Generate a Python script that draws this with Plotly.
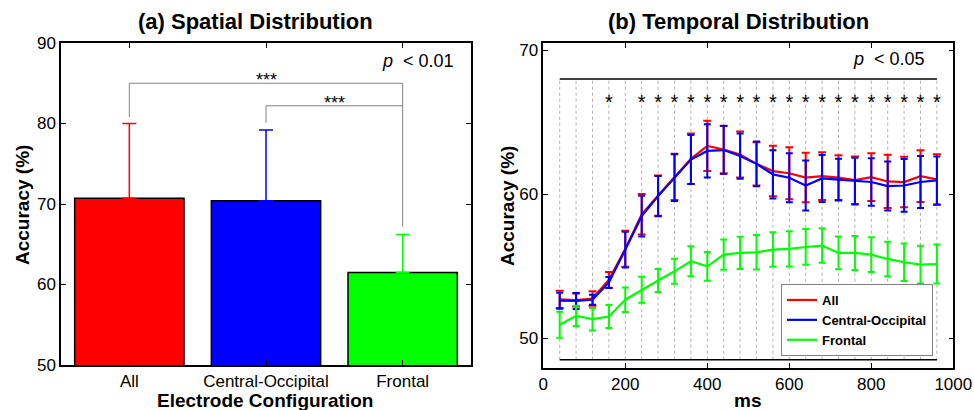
import plotly.graph_objects as go

# ---------------- data ----------------
# (a) spatial distribution
configs = ["All", "Central-Occipital", "Frontal"]
bar_acc = [70.7, 70.4, 61.5]
bar_err = [9.3, 8.8, 4.7]
bar_colors = ["#ff0000", "#0000ff", "#00ff00"]
bracket1_x = ["All", "All", "Frontal", "Frontal"]
bracket1_y = [80.8, 85.0, 85.0, 67.2]
bracket2_x = ["Central-Occipital", "Central-Occipital", "Frontal"]
bracket2_y = [80.1, 82.2, 82.2]

# (b) temporal distribution
ms = [40, 80, 120, 160, 200, 240, 280, 320, 360, 400, 440, 480,
      520, 560, 600, 640, 680, 720, 760, 800, 840, 880, 920, 960]
all_mean = [52.70, 52.65, 52.75, 54.05, 56.20, 58.60, 59.90, 61.20, 62.45, 63.35, 63.10, 62.75,
            62.10, 61.60, 61.45, 61.15, 61.25, 61.15, 60.97, 61.18, 60.88, 60.84, 61.25, 61.02]
all_err = [0.60, 0.45, 0.50, 0.55, 1.25, 1.40, 1.40, 1.60, 1.75, 1.75, 1.65, 1.60,
           1.50, 1.75, 1.80, 1.72, 1.65, 1.55, 1.65, 1.65, 1.85, 1.75, 1.80, 1.75]
co_mean = [52.60, 52.58, 52.67, 53.87, 56.15, 58.47, 59.86, 61.15, 62.40, 63.00, 63.06, 62.64,
           62.10, 61.37, 61.14, 60.60, 61.09, 61.00, 60.90, 60.84, 60.56, 60.60, 60.84, 60.95]
co_err = [0.55, 0.56, 0.35, 0.38, 1.24, 1.42, 1.40, 1.62, 1.70, 1.85, 1.67, 1.57,
          1.55, 1.67, 1.70, 1.74, 1.63, 1.45, 1.62, 1.65, 1.70, 1.83, 1.81, 1.67]
fr_mean = [50.93, 51.55, 51.32, 51.50, 52.67, 53.36, 54.00, 54.64, 55.34, 54.99, 55.80, 55.92,
           55.96, 56.15, 56.20, 56.33, 56.43, 55.92, 55.92, 55.80, 55.50, 55.27, 55.10, 55.15]
fr_err = [0.90, 0.70, 0.78, 0.80, 0.85, 0.90, 0.80, 0.87, 1.04, 1.00, 1.05, 1.12,
          1.20, 1.20, 1.22, 1.24, 1.20, 1.14, 1.18, 1.20, 1.20, 1.30, 1.31, 1.36]
sig_ms = [160, 240, 280, 320, 360, 400, 440, 480, 520, 560, 600, 640, 680,
          720, 760, 800, 840, 880, 920, 960]
sig_level = 66.7
frame_top, frame_bottom = 68.0, 48.5

FONT = "Liberation Sans, Arial, sans-serif"
W, H = 974, 410

fig = go.Figure()

# ---- panel (a) bars ----
for c, v, e, col in zip(configs, bar_acc, bar_err, bar_colors):
    fig.add_trace(go.Bar(
        x=[c], y=[v], width=0.8, marker=dict(color=col, line=dict(color="black", width=1.5)),
        error_y=dict(type="data", symmetric=False, array=[e], arrayminus=[0],
                     color=col, thickness=1.5, width=7),
        showlegend=False, xaxis="x", yaxis="y"))

for bx, by in [(bracket1_x, bracket1_y), (bracket2_x, bracket2_y)]:
    fig.add_trace(go.Scatter(x=bx, y=by, mode="lines", line=dict(color="#808080", width=1),
                             showlegend=False, hoverinfo="skip", xaxis="x", yaxis="y"))

# ---- panel (b) ----
vx, vy = [], []
for t in ms:
    vx += [t, t, None]
    vy += [frame_bottom, frame_top, None]
fig.add_trace(go.Scatter(x=vx, y=vy, mode="lines", line=dict(color="#b0b0b0", width=1, dash="dot"),
                         showlegend=False, hoverinfo="skip", xaxis="x2", yaxis="y2"))
fig.add_trace(go.Scatter(x=[ms[0], ms[-1], None, ms[0], ms[-1]],
                         y=[frame_top, frame_top, None, frame_bottom, frame_bottom],
                         mode="lines", line=dict(color="black", width=1.5),
                         showlegend=False, hoverinfo="skip", xaxis="x2", yaxis="y2"))

for name, m, e, col, cw in [("All", all_mean, all_err, "#ff0000", 4),
                            ("Central-Occipital", co_mean, co_err, "#0000ff", 3.5),
                            ("Frontal", fr_mean, fr_err, "#00ff00", 3.5)]:
    fig.add_trace(go.Scatter(
        x=ms, y=m, mode="lines", name=name, line=dict(color=col, width=2.2),
        error_y=dict(type="data", array=e, color=col, thickness=2, width=cw),
        xaxis="x2", yaxis="y2"))

fig.add_trace(go.Scatter(x=sig_ms, y=[sig_level - 0.45] * len(sig_ms), mode="text",
                         text=["*"] * len(sig_ms), textfont=dict(family=FONT, size=20, color="black"),
                         showlegend=False, hoverinfo="skip", xaxis="x2", yaxis="y2"))

def px_x(p):
    return p / W

def px_y(p):
    return 1 - p / H

axis_common = dict(showline=True, linecolor="black", linewidth=1.5, mirror="allticks",
                   ticks="inside", ticklen=5, tickcolor="black", tickwidth=1,
                   showgrid=False, zeroline=False, automargin=False,
                   tickfont=dict(family=FONT, size=17, color="black"))

fig.update_layout(
    width=W, height=H, margin=dict(l=0, r=0, t=0, b=0, autoexpand=False),
    paper_bgcolor="white", plot_bgcolor="white", barmode="overlay",
    xaxis=dict(domain=[px_x(61), px_x(471)], type="category", range=[-0.5, 2.5],
               categoryorder="array", categoryarray=configs, anchor="y", **axis_common),
    yaxis=dict(domain=[px_y(365), px_y(43)], range=[50, 90], dtick=10, anchor="x", **axis_common),
    xaxis2=dict(domain=[px_x(543.3), px_x(953.3)], range=[0, 1000], dtick=200, anchor="y2", **axis_common),
    yaxis2=dict(domain=[px_y(367.7), px_y(43.3)], range=[47.95, 70.47], dtick=10, anchor="x2", **axis_common),
    legend=dict(x=px_x(781), y=px_y(284), xanchor="left", yanchor="top",
                bgcolor="white", bordercolor="#808080", borderwidth=1,
                font=dict(family=FONT, size=13, color="black", weight="bold"),
                tracegroupgap=0),
    font=dict(family=FONT, color="black"),
)

title_font = dict(family=FONT, size=22, color="black", weight="bold")
axt_font = dict(family=FONT, size=19, color="black", weight="bold")
ann = [
    dict(text="(a) Spatial Distribution", x=px_x(255), y=px_y(21), font=title_font),
    dict(text="(b) Temporal Distribution", x=px_x(738), y=px_y(21), font=title_font),
    dict(text="Electrode Configuration", x=px_x(265), y=px_y(400), font=axt_font),
    dict(text="ms", x=px_x(747), y=px_y(400), font=axt_font),
    dict(text="Accuracy (%)", x=px_x(22), y=px_y(205), font=axt_font, textangle=-90),
    dict(text="Accuracy (%)", x=px_x(507), y=px_y(206), font=axt_font, textangle=-90),
    dict(text="<i>p</i>  < 0.01", x=px_x(456), y=px_y(61), xanchor="right",
         font=dict(family=FONT, size=18, color="black")),
    dict(text="<i>p</i>  < 0.05", x=px_x(927), y=px_y(59), xanchor="right",
         font=dict(family=FONT, size=18, color="black")),
]
for a in ann:
    a.setdefault("xanchor", "center")
    fig.add_annotation(xref="paper", yref="paper", yanchor="middle", showarrow=False, **a)

star_font = dict(family=FONT, size=18, color="black")
fig.add_annotation(x=1, y=85, xref="x", yref="y", text="***", showarrow=False,
                   yanchor="bottom", font=star_font, yshift=-9)
fig.add_annotation(x=1.5, y=82.2, xref="x", yref="y", text="***", showarrow=False,
                   yanchor="bottom", font=star_font, yshift=-9)

fig.write_html("out.html",
               post_script="document.body.style.margin='0px';document.body.style.overflow='hidden';")
